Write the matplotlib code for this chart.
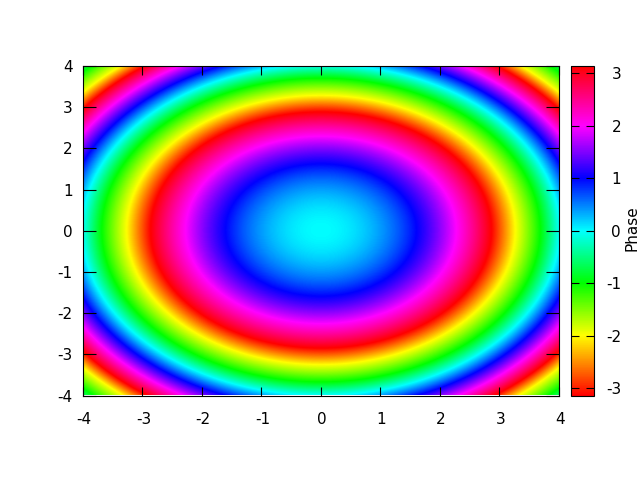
import numpy as np
import matplotlib
matplotlib.use("Agg")
import matplotlib.pyplot as plt
from matplotlib.colors import LinearSegmentedColormap
from matplotlib.transforms import ScaledTranslation

plt.rcParams["font.family"] = "DejaVu Sans"
plt.rcParams["font.size"] = 11
plt.rcParams["axes.unicode_minus"] = False

radii = np.array([0, 0.5, 1.0, 1.3, 1.61, 2.28, 2.87, 3.27, 3.69, 4.02, 4.33, 4.64, 4.97, 5.22, 5.66])
phase = np.array([0, 0.1, 0.39, 0.65, 1.0, 2.0, 3.14, 4.28, 5.28, 6.28, 7.28, 8.28, 9.42, 10.57, 11.9])

# colour stops of the palette
pal_vals = [-np.pi, -2, -1, 0, 1, 2, np.pi]
pal_cols = ["#ff0000", "#ffff00", "#00ff00", "#00ffff", "#0000ff", "#ff00ff", "#ff0000"]

xticks = [-4, -3, -2, -1, 0, 1, 2, 3, 4]
yticks = [-4, -3, -2, -1, 0, 1, 2, 3, 4]
cticks = [-3, -2, -1, 0, 1, 2, 3]

W, H = 640, 480

# grid for the field
xs = np.linspace(-4, 4, 480)
ys = np.linspace(-4, 4, 330)
X, Y = np.meshgrid(xs, ys)
R2 = X**2 + Y**2
Z = np.interp(R2, radii**2, phase)
Z = (Z + np.pi) % (2*np.pi) - np.pi

stops = [(v + np.pi)/(2*np.pi) for v in pal_vals]
cmap = LinearSegmentedColormap.from_list("phase", list(zip(stops, pal_cols)), N=512)

fig = plt.figure(figsize=(6.4, 4.8), dpi=100)
ax = fig.add_axes([82.5/W, 1 - 395.5/H, 476/W, 329.5/H])
cax = fig.add_axes([570.5/W, 1 - 395.5/H, 23.5/W, 329.5/H])

im = ax.imshow(Z, extent=[-4, 4, -4, 4], origin="lower", aspect="auto",
               cmap=cmap, vmin=-np.pi, vmax=np.pi, interpolation="bilinear")
ax.set_xticks(xticks)
ax.set_yticks(yticks)
ax.tick_params(axis="x", direction="in", top=True, bottom=True, length=6.5, width=0.8, pad=12, labelsize=11)
ax.tick_params(axis="y", direction="in", left=True, right=True, length=9.5, width=0.8, pad=7, labelsize=11)

# x labels sit a little right of their ticks
shift = ScaledTranslation(1.5/100, 0, fig.dpi_scale_trans)
for lab in ax.get_xticklabels():
    lab.set_transform(lab.get_transform() + shift)

cbar = fig.colorbar(im, cax=cax)
cbar.set_ticks(cticks)
cax.tick_params(axis="y", direction="in", left=True, right=True, length=5.5, width=0.8, pad=19.5, labelsize=11)
for lab in cax.get_yticklabels():
    lab.set_ha("right")
cbar.set_label("Phase", fontsize=11)
cax.yaxis.set_label_coords(2.28, 0.508)

fig.savefig("out.png", dpi=100)
